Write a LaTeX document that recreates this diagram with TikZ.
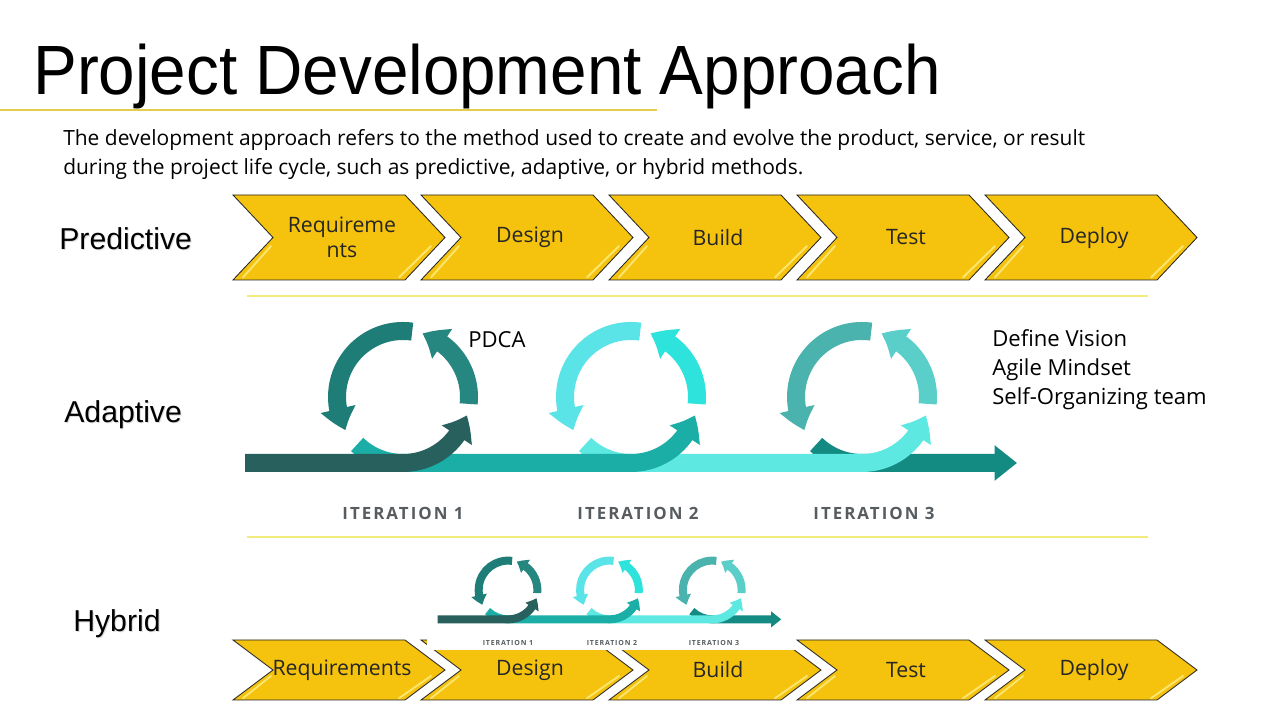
\documentclass[tikz,border=0pt]{standalone}
\usepackage{fontspec}
\usepackage{graphicx}
\setmainfont{Open Sans}
\newfontfamily\headfont{Liberation Sans}
\newfontfamily\iterfont[LetterSpace=12]{Open Sans}
\usetikzlibrary{arrows.meta, bending}

\definecolor{gold}{HTML}{F5C20E}
\definecolor{goldlight}{HTML}{FBE56E}
\definecolor{rowrule}{HTML}{F1EC7C}
\definecolor{titlerule}{HTML}{E5CD4C}
\definecolor{itergray}{HTML}{565C5F}
% timeline pieces
\definecolor{segA}{HTML}{27605D}
\definecolor{segB}{HTML}{1AAEA6}
\definecolor{segC}{HTML}{5EE8E2}
\definecolor{segD}{HTML}{138A82}
% loop arcs, left and right
\definecolor{ringAl}{HTML}{1E7D77}
\definecolor{ringAr}{HTML}{268680}
\definecolor{ringBl}{HTML}{5AE4E8}
\definecolor{ringBr}{HTML}{2DE3DC}
\definecolor{ringCl}{HTML}{4AB3AD}
\definecolor{ringCr}{HTML}{5ACFCA}

\tikzset{
  chev/.style = {fill = gold, draw = black!85, line width = 0.6pt, line join = miter},
  shine/.style = {draw = goldlight, line width = 1.4pt, line cap = round},
  chevtext/.style = {font = \fontsize{15.1pt}{18pt}\selectfont, text = black!85, align = center, inner sep = 0pt},
  band/.style = {-{Triangle[bend, length = 0pt 1.25, width = 0pt 1.9]}},
  itertext/.style = {text = itergray, inner sep = 0pt},
  rowlabel/.style = {anchor = base west, inner sep = 0pt, font = \headfont\fontsize{21.5pt}{26pt}\selectfont},
  sidetext/.style = {anchor = base west, inner sep = 0pt, font = \fontsize{15.7pt}{19pt}\selectfont}
}

% chevron: name, left x, top y, bottom y, text
\newcommand{\chevron}[5]{%
  \pgfmathsetmacro\cmid{(#3 + #4) / 2}
  \pgfmathsetmacro\shlo{#4 + 0.06 * (\cmid - #4)}
  \pgfmathsetmacro\shhi{#4 + 0.8 * (\cmid - #4)}
  \draw [chev] (#2, #3) -- (#2 + 172, #3) -- (#2 + 212, \cmid) -- (#2 + 172, #4) -- (#2, #4) -- (#2 + 40, \cmid) -- cycle;
  \draw [shine] (#2 + 10, \shlo) -- (#2 + 38, \shhi);
  \draw [shine] (#2 + 166, \shlo) -- (#2 + 198, \shhi);
  \node [chevtext] (#1) at (#2 + 109, \cmid) {#5};
}

% row label with a soft shadow
\newcommand{\rowname}[4]{%
  \node [rowlabel, text = black!14] at (#2 + 1, #3 - 1) {#4};
  \node [rowlabel] (#1) at (#2, #3) {#4};
}

% three loops on a timeline: x, y of first loop centre, scale, band width
\newcommand{\iterstrip}[4]{%
  \begin{scope}[shift = {(#1, #2)}, scale = #3, line width = #4]
    \foreach \cx/\lc/\rc in {0/ringAl/ringAr, 228/ringBl/ringBr, 459/ringCl/ringCr} {
      \draw [band, \lc] ([shift = {(82:66)}] \cx, 0) arc [start angle = 82, end angle = 210, radius = 66];
      \draw [band, \rc] ([shift = {(-6:66)}] \cx, 0) arc [start angle = -6, end angle = 73, radius = 66];
    }
    % later pieces go underneath
    \draw [band, segD] ([shift = {(226:66)}] 459, 0) arc [start angle = 226, end angle = 270, radius = 66] -- (614, -66);
    \draw [band, segC] ([shift = {(226:66)}] 228, 0) arc [start angle = 226, end angle = 270, radius = 66] -- (459, -66)
      arc [start angle = 270, end angle = 344, radius = 66];
    \draw [band, segB] ([shift = {(226:66)}] 0, 0) arc [start angle = 226, end angle = 270, radius = 66] -- (228, -66)
      arc [start angle = 270, end angle = 344, radius = 66];
    \draw [band, segA] (-158, -66) -- (0, -66) arc [start angle = 270, end angle = 344, radius = 66];
  \end{scope}
}

\begin{document}
\begin{tikzpicture}[x = 0.025cm, y = 0.025cm]
  \fill [white] (0, 0) rectangle (1280, 720);
  \useasboundingbox (0, 0) rectangle (1280, 720);

  \node [anchor = base west, inner sep = 0pt, font = \headfont\fontsize{49.6pt}{56pt}\selectfont] (title) at (33, 625)
    {\scalebox{0.94}[1]{Project Development Approach}};
  \draw [titlerule, line width = 1.8pt] (0, 610) -- (657, 610);

  \node [anchor = base west, inner sep = 0pt, font = \fontsize{14.9pt}{18pt}\selectfont] (intro) at (63, 574)
    {The development approach refers to the method used to create and evolve the product, service, or result};
  \node [anchor = base west, inner sep = 0pt, font = \fontsize{14.9pt}{18pt}\selectfont] (introb) at (63, 545)
    {during the project life cycle, such as predictive, adaptive, or hybrid methods.};

  \rowname{predictive}{59}{470}{Predictive}
  \rowname{adaptive}{64}{297}{Adaptive}
  \rowname{hybrid}{73}{88}{Hybrid}

  % predictive phases
  \foreach \name/\x/\txt in {req/233/{Requireme\\nts}, des/421/Design, bld/609/Build, tst/797/Test, dep/985/Deploy}
    {\chevron{\name}{\x}{525}{440}{\txt}}

  \draw [rowrule, line width = 2pt] (247, 424) -- (1148, 424);
  \draw [rowrule, line width = 2pt] (247, 183) -- (1148, 183);

  % adaptive loops
  \iterstrip{403}{323}{1}{0.45cm}
  \foreach \x/\n in {403/1, 638/2, 874/3}
    \node [itertext, font = \iterfont\bfseries\fontsize{12pt}{14pt}\selectfont] (iter\n) at (\x, 207) {ITERATION \n};

  \node [anchor = west, inner sep = 0pt, font = \fontsize{15.7pt}{19pt}\selectfont] (pdca) at (468, 380) {PDCA};
  \node [sidetext] (vision) at (992, 373) {Define Vision};
  \node [sidetext] (mindset) at (992, 344) {Agile Mindset};
  \node [sidetext] (team) at (992, 315) {Self-Organizing team};

  % hybrid phases with small loops over design and build
  \foreach \name/\x/\txt in {hreq/233/Requirements, hdes/421/Design, hbld/609/Build, htst/797/Test, hdep/985/Deploy}
    {\chevron{\name}{\x}{80}{20}{\txt}}
  \fill [white] (427, 70) rectangle (796, 172);
  \iterstrip{508}{130}{0.445}{0.2cm}
  \foreach \x/\n in {508/1, 612/2, 714/3}
    \node [itertext, font = \iterfont\bfseries\fontsize{5pt}{6pt}\selectfont] (miniter\n) at (\x, 77) {ITERATION \n};
\end{tikzpicture}
\end{document}
